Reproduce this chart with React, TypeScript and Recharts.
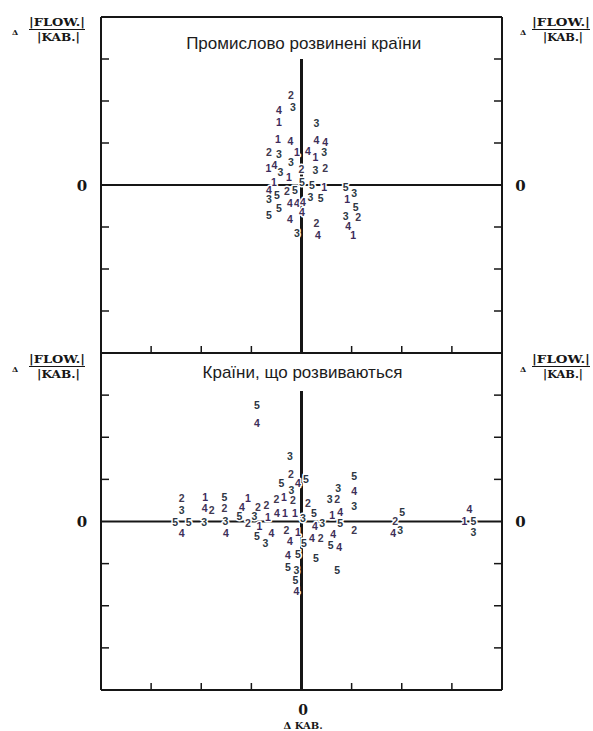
import React from 'react';
import { ScatterChart, Scatter, XAxis, YAxis, ReferenceLine } from 'recharts';

// ---- tick values (both axes, both panels) ----
const AXIS_TICKS = [-4, -3, -2, -1, 0, 1, 2, 3, 4];

// ---- panel titles / axis texts ----
const TOP_TITLE = 'Промислово розвинені країни';
const BOTTOM_TITLE = 'Країни, що розвиваються';
const Y_NUM = '|FLOW.|';
const Y_DEN = '|KAB.|';
const X_LABEL = 'Δ KAB.';

// ---- industrial countries (top panel) ----
const topDigit = [2,4,3,1,3,1,4,4,4,2,3,1,4,1,3,1,4,3,3,2,3,2,1,1,5,5,1,5,3,4,5,2,5,3,3,5,1,5,4,4,4,4,5,5,3,2,4,2,4,1,3,4];
const topX = [-0.21,-0.45,-0.17,-0.45,0.30,-0.47,-0.22,0.30,0.47,-0.65,-0.45,-0.09,0.13,0.28,0.45,-0.66,-0.54,-0.21,-0.42,0.00,0.28,0.47,-0.25,-0.55,0.01,0.21,0.45,0.88,1.05,-0.65,-0.49,-0.29,-0.13,-0.65,0.18,0.38,0.91,-0.45,-0.23,-0.09,0.03,0.01,1.08,-0.65,0.88,1.13,-0.23,0.30,0.93,1.03,-0.09,0.33];
const topY = [2.14,1.79,1.85,1.51,1.47,1.10,1.05,1.07,1.02,0.78,0.75,0.78,0.81,0.67,0.78,0.41,0.48,0.55,0.32,0.37,0.36,0.40,0.18,0.08,0.08,0.00,-0.04,-0.04,-0.20,-0.12,-0.24,-0.14,-0.12,-0.34,-0.29,-0.32,-0.34,-0.55,-0.44,-0.44,-0.40,-0.64,-0.53,-0.71,-0.74,-0.77,-0.82,-0.90,-0.98,-1.19,-1.15,-1.19];

// ---- developing countries (bottom panel) ----
const bottomDigit = [5,4,3,2,5,4,5,3,1,2, 2,2,2,1,4,2,3,2,5,1, 1,4,1,1,3,5,4,3,2,1, 4,5,3,4,5,4,2,4,5,5, 5,3,5,4,5,3,2,3,5,4, 3,1,4,5,2,4,5,4,2,3, 5,5,4,1,4,2,3,5,2,3, 4,2,5,4,3,4,1,5,3];
const bottomX = [-0.89,-0.89,-0.23,-0.21,-0.40,-0.07,0.09,-0.20,-0.35,-0.50, -0.17,0.13,-0.70,-1.07,-1.19,-0.87,-0.94,-1.07,-1.24,-0.84, -0.67,-0.49,-0.33,-0.13,0.03,0.25,0.27,0.41,-0.30,-0.07, -0.60,-0.89,-0.72,-0.23,0.05,0.21,0.38,-0.27,-0.07,0.29, -0.27,-0.10,-0.12,-0.10,0.71,0.56,0.71,0.73,1.05,1.05, 1.05,0.61,0.77,0.77,1.05,0.63,0.58,0.75,-2.39,-2.39, -2.52,-2.25,-2.39,-1.92,-1.93,-1.79,-1.94,-1.54,-1.54,-1.52, -1.51,1.87,2.01,1.83,1.97,3.35,3.25,3.43,3.43];
const bottomY = [2.77,2.34,1.56,1.13,0.91,0.91,1.01,0.75,0.59,0.53, 0.50,0.45,0.39,0.55,0.34,0.35,0.13,-0.04,0.13,-0.11, 0.10,0.20,0.20,0.21,0.09,0.20,-0.10,-0.03,-0.20,-0.24, -0.27,-0.35,-0.52,-0.46,-0.50,-0.38,-0.38,-0.80,-0.77,-0.86, -1.08,-1.14,-1.39,-1.65,-1.14,0.53,0.53,0.79,1.08,0.73, 0.37,0.15,0.23,-0.04,-0.20,-0.30,-0.56,-0.60,0.55,0.27, 0.00,0.00,-0.27,0.59,0.31,0.27,0.00,0.58,0.31,0.02, -0.27,0.01,0.23,-0.28,-0.20,0.29,0.01,0.01,-0.24];

const DIGIT_COLORS: Record<number, string> = {
  1: '#3d2a5c',
  2: '#403850',
  3: '#2c3a44',
  4: '#3d2e58',
  5: '#2c3542',
};

const INK = '#161616';
const SERIF = "'DejaVu Serif', 'Liberation Serif', serif";
const SANS = "'Liberation Sans', Arial, sans-serif";

const toData = (xs: number[], ys: number[], ds: number[]) =>
  xs.map((x, i) => ({ x, y: ys[i], d: ds[i] }));

const topData = toData(topX, topY, topDigit);
const bottomData = toData(bottomX, bottomY, bottomDigit);

const DigitShape = (props: any) => {
  const { cx, cy, payload } = props;
  if (cx == null || cy == null || !payload) return <g />;
  return (
    <text
      x={cx}
      y={cy + 4}
      textAnchor="middle"
      fontFamily={SANS}
      fontWeight="bold"
      fontSize={10.5}
      fill={DIGIT_COLORS[payload.d]}
      stroke="#fff"
      strokeWidth={3}
      strokeLinejoin="round"
      paintOrder="stroke"
    >
      {payload.d}
    </text>
  );
};

const inner = (v: number) => v !== 0 && Math.abs(v) < 4;

const LeftTick = (props: any) => {
  const { x, y, payload } = props;
  const v = payload.value;
  if (v === 0)
    return (
      <text x={x - 19} y={y + 5.5} textAnchor="middle" fontFamily={SERIF} fontWeight="bold" fontSize={15} fill={INK}>
        0
      </text>
    );
  if (!inner(v)) return <g />;
  return <line x1={x} x2={x + 8} y1={y} y2={y} stroke={INK} strokeWidth={1.5} />;
};

const RightTick = (props: any) => {
  const { x, y, payload } = props;
  const v = payload.value;
  if (v === 0)
    return (
      <text x={x + 18.5} y={y + 5.5} textAnchor="middle" fontFamily={SERIF} fontWeight="bold" fontSize={15} fill={INK}>
        0
      </text>
    );
  if (!inner(v)) return <g />;
  return <line x1={x} x2={x - 8} y1={y} y2={y} stroke={INK} strokeWidth={1.5} />;
};

const TopCenterTick = (props: any) => {
  const { x, y, payload } = props;
  if (payload.value !== 0) return <g />;
  return <line x1={x} x2={x} y1={y} y2={y + 5} stroke={INK} strokeWidth={2} />;
};

const makeBottomTick = (withLabels: boolean) => (props: any) => {
  const { x, y, payload } = props;
  const v = payload.value;
  return (
    <g>
      {inner(v) && <line x1={x} x2={x} y1={y} y2={y - 7} stroke={INK} strokeWidth={1.5} />}
      {withLabels && v === 0 && (
        <text x={x + 1.5} y={y + 25} textAnchor="middle" fontFamily={SERIF} fontWeight="bold" fontSize={14} fill={INK}>
          0
        </text>
      )}
      {withLabels && v === 0 && (
        <text x={x + 1.5} y={y + 39} textAnchor="middle" fontFamily={SERIF} fontWeight="bold" fontSize={10} fill={INK}>
          {X_LABEL}
        </text>
      )}
    </g>
  );
};

const axisLine = { stroke: INK, strokeWidth: 2 };

type PanelProps = {
  data: { x: number; y: number; d: number }[];
  height: number;
  margin: { top: number; right: number; bottom: number; left: number };
  topCenterTick: boolean;
  bottomLabels: boolean;
  vTop: number;
};

const Panel = ({ data, height, margin, topCenterTick, bottomLabels, vTop }: PanelProps) => (
  <ScatterChart width={593} height={height} margin={margin}>
    <XAxis
      dataKey="x"
      type="number"
      domain={[-4, 4]}
      ticks={AXIS_TICKS}
      interval={0}
      height={1}
      tickSize={0}
      tickMargin={0}
      tickLine={false}
      axisLine={axisLine}
      tick={makeBottomTick(bottomLabels)}
      allowDataOverflow
    />
    <XAxis
      xAxisId="top"
      orientation="top"
      type="number"
      domain={[-4, 4]}
      ticks={AXIS_TICKS}
      interval={0}
      height={1}
      tickSize={0}
      tickMargin={0}
      tickLine={false}
      axisLine={axisLine}
      tick={topCenterTick ? TopCenterTick : false}
      allowDataOverflow
    />
    <YAxis
      dataKey="y"
      type="number"
      domain={[-4, 4]}
      ticks={AXIS_TICKS}
      interval={0}
      width={1}
      tickSize={0}
      tickMargin={0}
      tickLine={false}
      axisLine={axisLine}
      tick={LeftTick}
      allowDataOverflow
    />
    <YAxis
      yAxisId="right"
      orientation="right"
      type="number"
      domain={[-4, 4]}
      ticks={AXIS_TICKS}
      interval={0}
      width={1}
      tickSize={0}
      tickMargin={0}
      tickLine={false}
      axisLine={axisLine}
      tick={RightTick}
      allowDataOverflow
    />
    <ReferenceLine y={0} stroke={INK} strokeWidth={2} zIndex={-10} />
    <ReferenceLine
      segment={[
        { x: 0, y: vTop },
        { x: 0, y: -4 },
      ]}
      stroke={INK}
      strokeWidth={3}
      zIndex={-10}
    />
    <Scatter data={data} shape={DigitShape} isAnimationActive={false} zIndex={1000} />
  </ScatterChart>
);

const YTitle = ({ dy }: { dy: number }) => (
  <g>
    <text x={15} y={35 + dy} textAnchor="middle" fontFamily={SERIF} fontWeight="bold" fontSize={8} fill={INK}>Δ</text>
    <text x={57} y={26 + dy} textAnchor="middle" fontFamily={SERIF} fontWeight="bold" fontSize={11} fill={INK} textLength={56} lengthAdjust="spacingAndGlyphs">{Y_NUM}</text>
    <line x1={29} x2={85} y1={29.5 + dy} y2={29.5 + dy} stroke={INK} strokeWidth={1.2} />
    <text x={58.5} y={41 + dy} textAnchor="middle" fontFamily={SERIF} fontWeight="bold" fontSize={11} fill={INK} textLength={43} lengthAdjust="spacingAndGlyphs">{Y_DEN}</text>

    <text x={523} y={35 + dy} textAnchor="middle" fontFamily={SERIF} fontWeight="bold" fontSize={8} fill={INK}>Δ</text>
    <text x={561} y={26 + dy} textAnchor="middle" fontFamily={SERIF} fontWeight="bold" fontSize={11} fill={INK} textLength={58} lengthAdjust="spacingAndGlyphs">{Y_NUM}</text>
    <line x1={532} x2={590} y1={29.5 + dy} y2={29.5 + dy} stroke={INK} strokeWidth={1.2} />
    <text x={563} y={41 + dy} textAnchor="middle" fontFamily={SERIF} fontWeight="bold" fontSize={11} fill={INK} textLength={40} lengthAdjust="spacingAndGlyphs">{Y_DEN}</text>
  </g>
);

export default function App() {
  return (
    <div style={{ position: 'absolute', left: 0, top: 0, width: 593, height: 731, background: '#fff', overflow: 'hidden' }}>
      <div style={{ position: 'absolute', left: 0, top: 0 }}>
        <Panel
          data={topData}
          height={360}
          margin={{ top: 16, right: 90, bottom: 6, left: 100 }}
          topCenterTick
          bottomLabels={false}
          vTop={3}
        />
      </div>
      <div style={{ position: 'absolute', left: 0, top: 346 }}>
        <Panel
          data={bottomData}
          height={385}
          margin={{ top: 6, right: 90, bottom: 40, left: 100 }}
          topCenterTick={false}
          bottomLabels
          vTop={3.1}
        />
      </div>
      <svg width={593} height={731} style={{ position: 'absolute', left: 0, top: 0, pointerEvents: 'none' }}>
        <text x={303.7} y={49} textAnchor="middle" fontFamily={SANS} fontSize={17} fill="#1c1c1c">{TOP_TITLE}</text>
        <text x={302.5} y={378} textAnchor="middle" fontFamily={SANS} fontSize={17} fill="#1c1c1c">{BOTTOM_TITLE}</text>
        <YTitle dy={0} />
        <YTitle dy={337} />
      </svg>
    </div>
  );
}
